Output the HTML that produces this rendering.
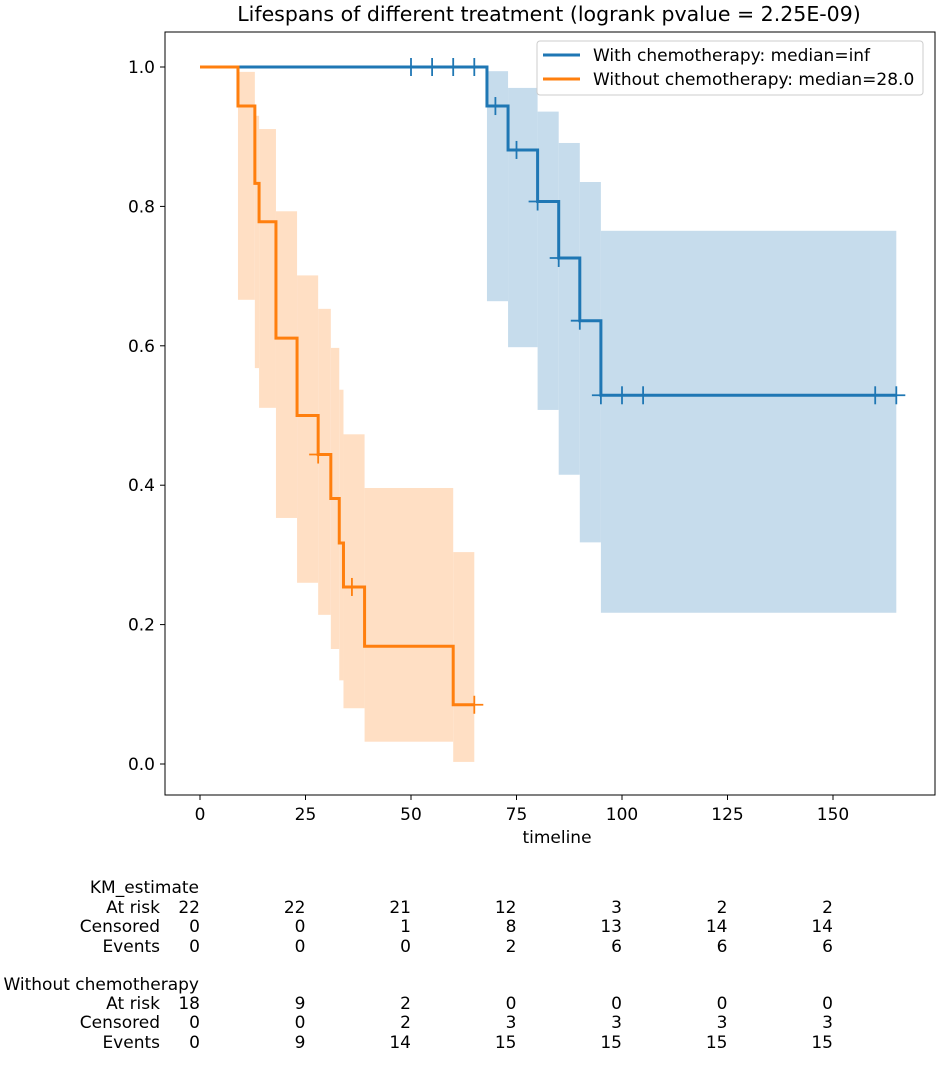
<!DOCTYPE html>
<html><head><meta charset="utf-8">
<style>
html,body{margin:0;padding:0;background:#fff;}
svg{display:block;font-family:"DejaVu Sans","Liberation Sans",sans-serif;}
</style></head>
<body>
<svg id="chart" width="939" height="1068" viewBox="0 0 939 1068" xmlns="http://www.w3.org/2000/svg">
<text x="549" y="21" font-size="20.5" text-anchor="middle" fill="#000">Lifespans of different treatment (logrank pvalue = 2.25E-09)</text>
<g id="bands"></g>
<g id="lines"></g>
<rect x="165" y="32" width="770" height="763" fill="none" stroke="#000" stroke-width="1"/>
<g id="axes"></g>
<g>
<rect x="537" y="41" width="386" height="54" rx="3" fill="#fff" fill-opacity="0.85" stroke="#ccc" stroke-width="1"/>
<line x1="543" y1="55" x2="580" y2="55" stroke="#1f77b4" stroke-width="3"/>
<text x="593" y="61" font-size="17">With chemotherapy: median=inf</text>
<line x1="543" y1="79" x2="580" y2="79" stroke="#ff7f0e" stroke-width="3"/>
<text x="593" y="85" font-size="17">Without chemotherapy: median=28.0</text>
</g>
<g id="table" font-size="17"></g>
</svg>
<script>
// ---- data ----
const blueTimes = [0, 68, 73, 80, 85, 90, 95];
const blueSurv = [1.0, 0.944, 0.881, 0.807, 0.726, 0.636, 0.529];
const blueLower = [1.0, 0.664, 0.598, 0.508, 0.415, 0.318, 0.217];
const blueUpper = [1.0, 0.994, 0.97, 0.936, 0.891, 0.835, 0.765];
const blueEnd = 165;
const blueCensorT = [50, 55, 60, 65, 70, 75, 80, 85, 90, 95, 100, 105, 160, 165];

const orangeTimes = [0, 9, 13, 14, 18, 23, 28, 31, 33, 34, 39, 60];
const orangeSurv = [1.0, 0.944, 0.833, 0.778, 0.611, 0.5, 0.444, 0.381, 0.317, 0.254, 0.169, 0.085];
const orangeLower = [1.0, 0.666, 0.568, 0.511, 0.353, 0.26, 0.214, 0.165, 0.12, 0.08, 0.032, 0.003];
const orangeUpper = [1.0, 0.993, 0.93, 0.911, 0.793, 0.701, 0.653, 0.597, 0.537, 0.473, 0.396, 0.304];
const orangeEnd = 65;
const orangeCensorT = [28, 36, 65];

const xTicks = [0, 25, 50, 75, 100, 125, 150];
const yTicks = [0.0, 0.2, 0.4, 0.6, 0.8, 1.0];
const tableCols = [0, 25, 50, 75, 100, 125, 150];
const g1AtRisk = [22, 22, 21, 12, 3, 2, 2];
const g1Censored = [0, 0, 1, 8, 13, 14, 14];
const g1Events = [0, 0, 0, 2, 6, 6, 6];
const g2AtRisk = [18, 9, 2, 0, 0, 0, 0];
const g2Censored = [0, 0, 2, 3, 3, 3, 3];
const g2Events = [0, 9, 14, 15, 15, 15, 15];

// ---- scales ----
const X = t => 200 + t * (633 / 150);
const Y = s => 764 - s * 697;
const NS = "http://www.w3.org/2000/svg";
function mk(tag, attrs, parent) {
  const e = document.createElementNS(NS, tag);
  for (const k in attrs) e.setAttribute(k, attrs[k]);
  parent.appendChild(e);
  return e;
}
const bands = document.getElementById('bands');
const lines = document.getElementById('lines');
const axes = document.getElementById('axes');
const table = document.getElementById('table');

function survAt(times, surv, t) {
  let s = surv[0];
  for (let i = 0; i < times.length; i++) if (times[i] <= t) s = surv[i];
  return s;
}
function drawSeries(name, times, surv, lo, hi, end, cens, color, fill) {
  for (let i = 1; i < times.length; i++) {
    const t0 = times[i], t1 = i + 1 < times.length ? times[i + 1] : end;
    const r = mk('rect', {x: X(t0), y: Y(hi[i]), width: X(t1) - X(t0), height: Y(lo[i]) - Y(hi[i]), fill: fill}, bands);
    
    
  }
  let d = 'M' + X(times[0]) + ',' + Y(surv[0]);
  for (let i = 1; i < times.length; i++) {
    d += ' H' + X(times[i]) + ' V' + Y(surv[i]);
  }
  d += ' H' + X(end);
  const p = mk('path', {d: d, fill: 'none', stroke: color, 'stroke-width': 3}, lines);
  
  
  cens.forEach(t => {
    const cx = X(t), cy = Y(survAt(times, surv, t));
    const g = mk('g', {stroke: color, 'stroke-width': 1.8}, lines);
    
    
    mk('line', {x1: cx - 9, y1: cy, x2: cx + 9, y2: cy}, g);
    mk('line', {x1: cx, y1: cy - 9, x2: cx, y2: cy + 9}, g);
  });
}
drawSeries('with-chemo', blueTimes, blueSurv, blueLower, blueUpper, blueEnd, blueCensorT, '#1f77b4', '#c6dcec');
drawSeries('without-chemo', orangeTimes, orangeSurv, orangeLower, orangeUpper, orangeEnd, orangeCensorT, '#ff7f0e', '#ffdfc4');

xTicks.forEach(t => {
  const l = mk('line', {x1: X(t), y1: 795, x2: X(t), y2: 800, stroke: '#000'}, axes);
  
  
  const tx = mk('text', {x: X(t), y: 820, 'font-size': 17, 'text-anchor': 'middle'}, axes);
  tx.textContent = t;
  
  
});
yTicks.forEach(s => {
  const l = mk('line', {x1: 160, y1: Y(s), x2: 165, y2: Y(s), stroke: '#000'}, axes);
  
  
  const tx = mk('text', {x: 155, y: Y(s) + 6, 'font-size': 17, 'text-anchor': 'end'}, axes);
  tx.textContent = s.toFixed(1);
  
  
});
const xt = mk('text', {x: 557, y: 843, 'font-size': 17, 'text-anchor': 'middle'}, axes);
xt.textContent = 'timeline';



function tText(str, x, y, name) {
  const e = mk('text', {x: x, y: y, 'text-anchor': 'end'}, table);
  e.textContent = str;
  
  
}
function drawRow(label, vals, y, name) {
  tText(label, 160, y, name + '-label');
  vals.forEach((v, i) => tText(String(v), X(tableCols[i]), y, name + '-value'));
}
tText('KM_estimate', 199, 893, 'table-group1-title');
drawRow('At risk', g1AtRisk, 913, 'g1-at-risk');
drawRow('Censored', g1Censored, 932, 'g1-censored');
drawRow('Events', g1Events, 952, 'g1-events');
tText('Without chemotherapy', 199, 990, 'table-group2-title');
drawRow('At risk', g2AtRisk, 1009, 'g2-at-risk');
drawRow('Censored', g2Censored, 1028, 'g2-censored');
drawRow('Events', g2Events, 1048, 'g2-events');
</script>
</body></html>
